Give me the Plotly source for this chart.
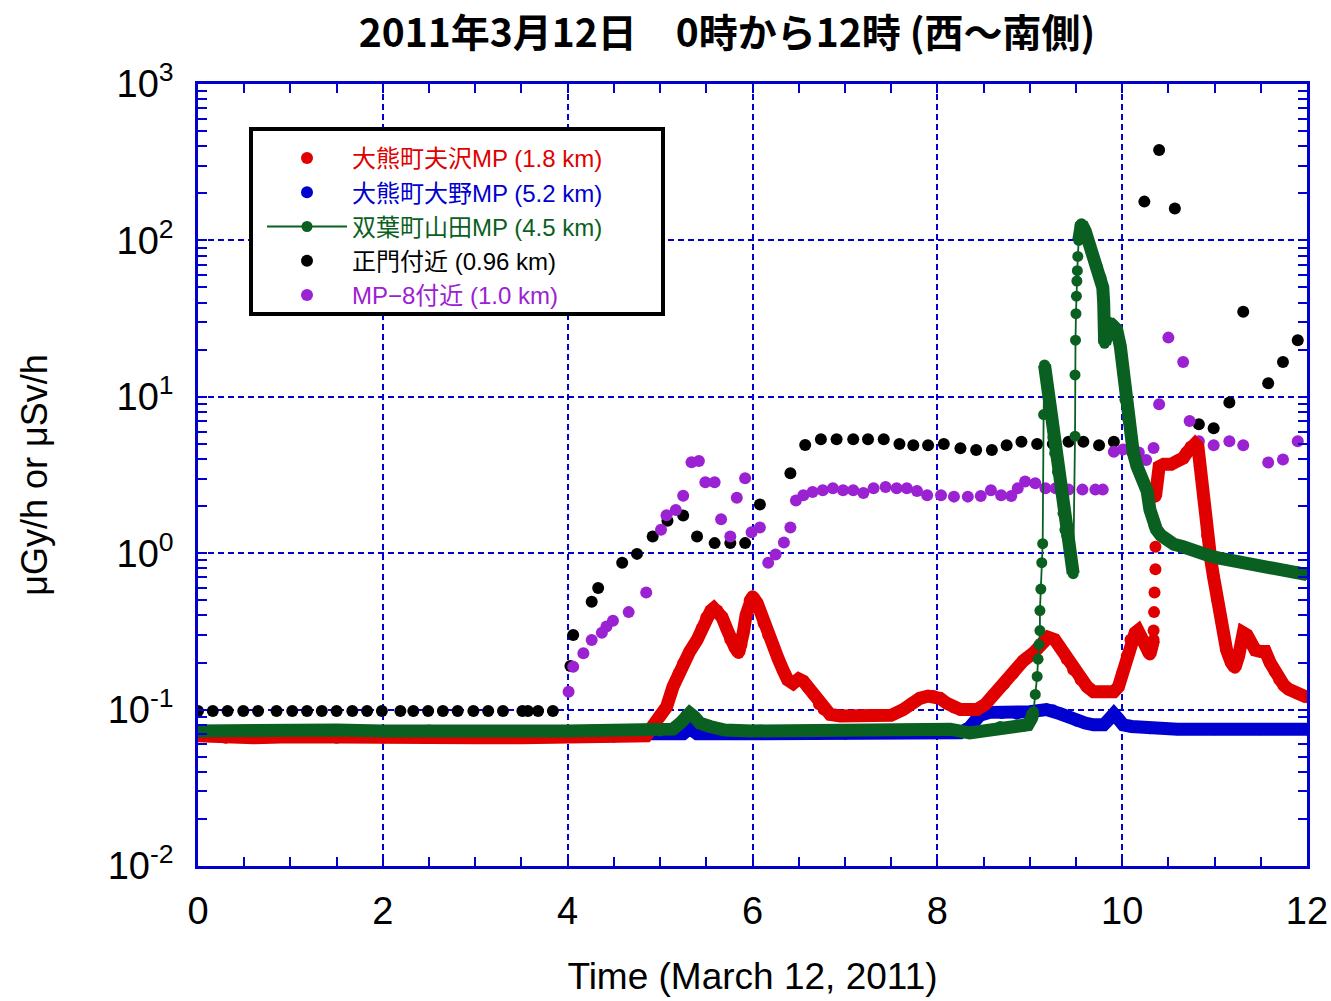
import plotly.graph_objects as go

# ---------------- data (hours after 0:00, March 12 2011) ----------------
# 正門付近 (0.96 km) - black
black_t = [0.00, 0.16, 0.32, 0.49, 0.65, 0.85, 1.02, 1.18, 1.34, 1.50, 1.67, 1.83, 1.99,
           2.19, 2.33, 2.49, 2.65, 2.81, 2.98, 3.14, 3.30, 3.51, 3.57, 3.68, 3.84,
           4.03, 4.06, 4.26, 4.33, 4.59, 4.75, 4.92, 5.08, 5.25, 5.40, 5.59, 5.76, 5.92,
           6.08, 6.41, 6.57, 6.74, 6.91, 7.09, 7.25, 7.42, 7.59, 7.74, 7.90, 8.07, 8.25,
           8.42, 8.59, 8.75, 8.91, 9.08, 9.25, 9.42, 9.58, 9.75, 9.91, 10.08, 10.24,
           10.40, 10.57, 10.83, 10.99, 11.16, 11.31, 11.58, 11.74, 11.90]
black_v = [0.098, 0.098, 0.098, 0.098, 0.098, 0.098, 0.098, 0.098, 0.098, 0.098, 0.098, 0.098, 0.098,
           0.098, 0.098, 0.098, 0.098, 0.098, 0.098, 0.098, 0.098, 0.098, 0.098, 0.098, 0.098,
           0.19, 0.30, 0.49, 0.60, 0.87, 0.99, 1.28, 1.61, 1.74, 1.28, 1.16, 1.16, 1.16,
           2.05, 3.24, 4.92, 5.35, 5.35, 5.35, 5.35, 5.35, 4.99, 4.90, 4.90, 4.99, 4.69,
           4.57, 4.57, 4.90, 5.16, 4.99, 5.00, 5.16, 5.16, 4.90, 5.16, 6.78, 177,
           378, 160, 6.67, 6.30, 9.18, 35, 12.2, 16.7, 23]

# MP-8付近 (1.0 km) - purple
purple_t = [3.68, 3.84, 4.01, 4.06, 4.17, 4.26, 4.37, 4.42, 4.49, 4.66, 4.85, 5.01, 5.07,
            5.17, 5.25, 5.34, 5.42, 5.49, 5.59, 5.66, 5.76, 5.83, 5.92, 5.99, 6.08, 6.17,
            6.25, 6.34, 6.41, 6.47, 6.55, 6.65, 6.76, 6.87, 6.98, 7.09, 7.20, 7.31, 7.44,
            7.56, 7.67, 7.78, 7.89, 8.04, 8.18, 8.33, 8.47, 8.58, 8.69, 8.80, 8.87, 8.95,
            9.06, 9.17, 9.28, 9.42, 9.57, 9.71, 9.79, 9.91, 10.01, 10.10, 10.18, 10.26,
            10.34, 10.40, 10.50, 10.66, 10.73, 10.83, 10.99, 11.16, 11.31, 11.58, 11.74, 11.90]
purple_v = [0.0695, 0.0695, 0.13, 0.188, 0.229, 0.279, 0.31, 0.34, 0.37, 0.42, 0.56, 1.41, 1.75,
            1.89, 2.33, 3.81, 3.89, 2.84, 2.84, 1.65, 1.28, 2.26, 3.01, 1.36, 1.46, 0.87,
            0.98, 1.17, 1.46, 2.17, 2.35, 2.46, 2.53, 2.60, 2.53, 2.53, 2.43, 2.60, 2.65,
            2.60, 2.60, 2.50, 2.35, 2.35, 2.30, 2.30, 2.32, 2.53, 2.35, 2.32, 2.60, 2.87,
            2.80, 2.60, 2.60, 2.55, 2.55, 2.55, 2.55, 4.46, 4.60, 4.50, 4.40, 3.94,
            4.70, 8.96, 23.9, 16.7, 7.0, 5.2, 4.9, 5.2, 4.9, 3.8, 3.97, 5.2]

# 大熊町大野MP (5.2 km) - blue
blue_t = [0.0, 1.0, 2.0, 3.0, 4.0, 5.0, 5.25, 5.32, 5.40, 6.0, 7.0, 8.0, 8.25, 8.35, 8.46,
          8.57, 8.70, 8.86, 9.00, 9.18, 9.25, 9.33, 9.42, 9.51, 9.60, 9.69, 9.80, 9.86,
          9.91, 9.96, 10.01, 10.10, 10.30, 10.60, 11.00, 11.50, 12.00]
blue_v = [0.070, 0.070, 0.070, 0.070, 0.070, 0.070, 0.070, 0.076, 0.070, 0.070, 0.070, 0.071,
          0.071, 0.077, 0.092, 0.096, 0.095, 0.094, 0.097, 0.100, 0.099, 0.094, 0.090, 0.085,
          0.082, 0.080, 0.080, 0.087, 0.094, 0.087, 0.080, 0.078, 0.076, 0.075, 0.075, 0.075, 0.075]

# 大熊町夫沢MP (1.8 km) - red: continuous part, sparse rise, continuous part
red_a_t = [0.0, 0.3, 0.6, 1.0, 1.5, 2.0, 2.5, 3.0, 3.5, 4.0, 4.5, 4.85, 4.93, 5.00, 5.07,
           5.14, 5.20, 5.25, 5.32, 5.40, 5.45, 5.50, 5.55, 5.58, 5.62, 5.67, 5.72, 5.76,
           5.81, 5.85, 5.88, 5.90, 5.93, 5.97, 6.00, 6.05, 6.12, 6.17, 6.23, 6.28, 6.33,
           6.38, 6.44, 6.50, 6.55, 6.60, 6.66, 6.72, 6.77, 6.84, 6.95, 7.10, 7.30, 7.50,
           7.63, 7.72, 7.81, 7.90, 7.96, 8.03, 8.10, 8.18, 8.25, 8.35, 8.43, 8.52, 8.61,
           8.72, 8.82, 8.93, 9.04, 9.12, 9.20, 9.27, 9.33, 9.40, 9.47, 9.55, 9.62, 9.69,
           9.80, 9.91, 9.96, 10.00, 10.05, 10.09, 10.14, 10.17, 10.21, 10.25, 10.28, 10.30,
           10.32, 10.34]
red_a_v = [0.068, 0.066, 0.066, 0.067, 0.066, 0.066, 0.066, 0.066, 0.066, 0.067, 0.067, 0.068,
           0.080, 0.092, 0.104, 0.140, 0.170, 0.198, 0.235, 0.279, 0.330, 0.390, 0.430, 0.445,
           0.430, 0.390, 0.330, 0.280, 0.250, 0.230, 0.260, 0.310, 0.400, 0.500, 0.530, 0.480,
           0.356, 0.300, 0.250, 0.210, 0.179, 0.155, 0.147, 0.157, 0.152, 0.138, 0.125, 0.108,
           0.100, 0.093, 0.091, 0.091, 0.091, 0.092, 0.100, 0.110, 0.118, 0.122, 0.122, 0.118,
           0.110, 0.103, 0.100, 0.100, 0.100, 0.108, 0.125, 0.145, 0.170, 0.205, 0.230, 0.265,
           0.290, 0.280, 0.250, 0.210, 0.180, 0.155, 0.140, 0.130, 0.130, 0.130, 0.140, 0.170,
           0.220, 0.280, 0.310, 0.320, 0.290, 0.260, 0.235, 0.225, 0.250, 0.280]
red_dot_t = [10.34, 10.345, 10.35, 10.36, 10.36, 10.35]
red_dot_v = [0.32, 0.42, 0.56, 0.79, 1.10, 1.50]
red_b_t = [10.36, 10.40, 10.45, 10.53, 10.60, 10.66, 10.70, 10.74, 10.79, 10.82, 10.84, 10.88,
           10.92, 10.96, 10.99, 11.03, 11.06, 11.10, 11.13, 11.18, 11.22, 11.26, 11.31, 11.35,
           11.39, 11.44, 11.50, 11.55, 11.60, 11.65, 11.70, 11.75, 11.80, 11.89, 12.00]
red_b_v = [2.30, 3.57, 3.70, 3.70, 3.90, 4.05, 4.40, 4.80, 5.00, 4.80, 3.60, 2.30,
           1.30, 0.90, 0.70, 0.50, 0.41, 0.30, 0.24, 0.20, 0.185, 0.22, 0.31, 0.30,
           0.27, 0.24, 0.235, 0.235, 0.20, 0.175, 0.155, 0.143, 0.135, 0.127, 0.120]

# 双葉町山田MP (4.5 km) - green
green_a_t = [0.0, 0.5, 1.0, 1.5, 2.0, 2.5, 3.0, 3.5, 4.0, 4.5, 5.0, 5.14, 5.22, 5.28, 5.32,
             5.37, 5.43, 5.54, 5.70, 6.0, 6.5, 7.0, 7.5, 8.0, 8.14, 8.35, 8.50, 8.68, 8.93,
             8.98, 9.02, 9.04]
green_a_v = [0.073, 0.074, 0.073, 0.074, 0.073, 0.074, 0.073, 0.073, 0.073, 0.073, 0.073,
             0.075, 0.082, 0.092, 0.095, 0.090, 0.082, 0.078, 0.074, 0.073, 0.073, 0.074,
             0.074, 0.074, 0.075, 0.071, 0.073, 0.078, 0.078, 0.080, 0.088, 0.097]
green_r1_t = [9.06, 9.08, 9.09, 9.10, 9.11, 9.11, 9.12, 9.13, 9.14, 9.15]
green_r1_v = [0.125, 0.163, 0.21, 0.26, 0.32, 0.43, 0.59, 0.87, 1.15, 7.7]
green_b_t = [9.16, 9.18, 9.20, 9.22, 9.25, 9.27, 9.30, 9.33, 9.36, 9.38, 9.40, 9.44, 9.46, 9.47]
green_b_v = [16.0, 13.0, 10.0, 7.5, 5.5, 4.35, 3.3, 2.54, 1.8, 1.41, 1.3, 1.0, 0.8, 0.74]
green_r2_t = [9.49, 9.49, 9.495, 9.50, 9.505, 9.51, 9.515, 9.52]
green_r2_v = [5.6, 13.8, 23.0, 34.0, 44.0, 55.0, 64.0, 79.0]
green_c_t = [9.53, 9.545, 9.56, 9.60, 9.64, 9.68, 9.73, 9.77, 9.79, 9.80, 9.805, 9.81, 9.83,
             9.86, 9.90, 9.94, 9.98, 10.01, 10.03, 10.06, 10.09, 10.12, 10.16, 10.19, 10.23,
             10.27, 10.30, 10.33, 10.37, 10.42, 10.48, 10.56, 10.66, 10.74, 10.85, 10.95,
             11.05, 11.20, 11.35, 11.49, 11.65, 11.78, 11.90, 12.00]
green_c_v = [100, 125, 128, 115, 96, 82, 68, 58, 50, 40, 30, 22, 24,
             30, 29, 27, 21, 14, 9.6, 7.2, 5.9, 4.4, 3.6, 3.2, 2.8,
             2.5, 1.9, 1.65, 1.42, 1.3, 1.22, 1.14, 1.1, 1.05, 1.0, 0.96,
             0.93, 0.9, 0.86, 0.83, 0.8, 0.78, 0.76, 0.73]

x_ticks = [0, 2, 4, 6, 8, 10, 12]
y_tickvals = [0.01, 0.1, 1, 10, 100, 1000]
y_ticktext = ["10<sup>-2</sup>", "10<sup>-1</sup>", "10<sup>0</sup>",
              "10<sup>1</sup>", "10<sup>2</sup>", "10<sup>3</sup>"]

# ---------------- style ----------------
RED = "#E00000"
BLUE = "#0000D0"
GREEN = "#0A6020"
BLACK = "#000000"
PURPLE = "#9B22D2"
AXC = "#0000D0"
FONT = "Liberation Sans, Arial, Noto Sans CJK JP, sans-serif"
LFONT = "Liberation Sans, Noto Sans CJK JP, sans-serif"
MS = 12
BAND = 13

fig = go.Figure()

def band(t, v, color):
    fig.add_trace(go.Scatter(x=t, y=v, mode="lines", line=dict(color=color, width=BAND),
                             showlegend=False, hoverinfo="skip"))

# black
fig.add_trace(go.Scatter(x=black_t, y=black_v, mode="markers",
                         marker=dict(color=BLACK, size=MS),
                         name="<span style='color:#000000'>正門付近 (0.96 km)</span>",
                         legendrank=4))
# purple
fig.add_trace(go.Scatter(x=purple_t, y=purple_v, mode="markers",
                         marker=dict(color=PURPLE, size=MS),
                         name="<span style='color:#9B22D2'>MP−8付近 (1.0 km)</span>",
                         legendrank=5))
# blue
band(blue_t, blue_v, BLUE)
fig.add_trace(go.Scatter(x=blue_t, y=blue_v, mode="markers",
                         marker=dict(color=BLUE, size=MS),
                         name="<span style='color:#0000D0'>大熊町大野MP (5.2 km)</span>",
                         legendrank=2))
# red
band(red_a_t, red_a_v, RED)
band(red_b_t, red_b_v, RED)
fig.add_trace(go.Scatter(x=red_a_t + red_dot_t + red_b_t, y=red_a_v + red_dot_v + red_b_v,
                         mode="markers", marker=dict(color=RED, size=MS),
                         name="<span style='color:#E00000'>大熊町夫沢MP (1.8 km)</span>",
                         legendrank=1))
# green
band(green_a_t, green_a_v, GREEN)
band(green_b_t, green_b_v, GREEN)
band(green_c_t, green_c_v, GREEN)
fig.add_trace(go.Scatter(x=green_a_t + green_r1_t + green_b_t + green_r2_t + green_c_t,
                         y=green_a_v + green_r1_v + green_b_v + green_r2_v + green_c_v,
                         mode="lines+markers", line=dict(color=GREEN, width=1.8),
                         marker=dict(color=GREEN, size=11),
                         name="<span style='color:#0A6020'>双葉町山田MP (4.5 km)</span>",
                         legendrank=3))

# legend frame
fig.add_shape(type="rect", xref="paper", yref="paper",
              x0=(251 - 198) / 1109, x1=(663 - 198) / 1109,
              y0=1 - (314 - 84) / 782, y1=1 - (129 - 84) / 782,
              line=dict(color="black", width=4), fillcolor="white", layer="above")

fig.update_layout(
    width=1331, height=1001,
    margin=dict(l=198, r=24, t=84, b=135),
    paper_bgcolor="white", plot_bgcolor="white",
    font=dict(family=FONT, color="black"),
    title=dict(text="<b>2011年3月12日　0時から12時 (西～南側)</b>",
               x=727 / 1331, xanchor="center", xref="container",
               y=1 - 33 / 1001, yanchor="middle", yref="container",
               font=dict(size=39, family="Noto Sans CJK JP, Liberation Sans", color="black")),
    showlegend=True,
    legend=dict(x=(262 - 198) / 1109, y=1 - (136 - 84) / 782, xanchor="left", yanchor="top",
                bgcolor="rgba(0,0,0,0)", borderwidth=0,
                font=dict(size=24, family=LFONT),
                itemwidth=80, tracegroupgap=0),
    xaxis=dict(range=[0, 12], tickvals=x_ticks, ticks="inside", ticklen=9, tickwidth=2,
               tickcolor=AXC, showline=True, linecolor=AXC, linewidth=2.5, mirror="allticks",
               showgrid=True, gridcolor=AXC, gridwidth=1.5, griddash="6px,4px",
               zeroline=False, tickfont=dict(size=38, family=FONT), automargin=False,
               ticklabelstandoff=10,
               minor=dict(dtick=0.5, ticks="inside", ticklen=9, tickwidth=2, tickcolor=AXC,
                          showgrid=False),
               title=dict(text="Time (March 12, 2011)", font=dict(size=37, family=FONT),
                          standoff=32)),
    yaxis=dict(type="log", range=[-2, 3], tickvals=y_tickvals, ticktext=y_ticktext,
               ticks="inside", ticklen=9, tickwidth=2, tickcolor=AXC,
               showline=True, linecolor=AXC, linewidth=2.5, mirror="allticks",
               showgrid=True, gridcolor=AXC, gridwidth=1.5, griddash="6px,4px",
               zeroline=False, tickfont=dict(size=38, family=FONT), automargin=False,
               ticklabelstandoff=14,
               minor=dict(dtick="D1", ticks="inside", ticklen=9, tickwidth=2, tickcolor=AXC,
                          showgrid=False),
               title=dict(text="μGy/h or μSv/h", font=dict(size=36, family=FONT),
                          standoff=50)),
)

fig.write_html("out.html")
